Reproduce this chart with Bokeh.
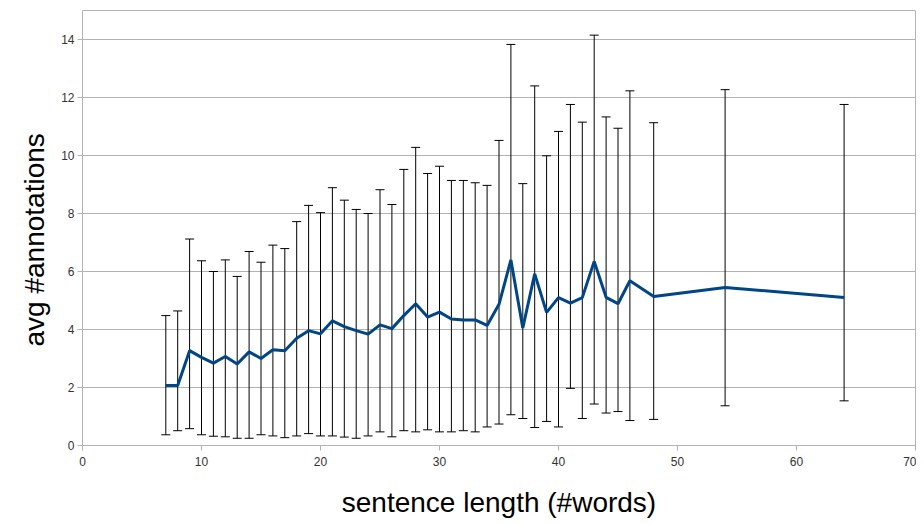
from bokeh.plotting import figure
from bokeh.models import ColumnDataSource, Whisker, TeeHead, FixedTicker, Range1d, Title
from bokeh.embed import file_html
from bokeh.resources import INLINE

sentence_length = [7, 8, 9, 10, 11, 12, 13, 14, 15, 16, 17, 18, 19, 20, 21, 22, 23, 24, 25, 26,
                   27, 28, 29, 30, 31, 32, 33, 34, 35, 36, 37, 38, 39, 40, 41, 42, 43, 44, 45, 46,
                   48, 54, 64]
avg_annotations = [2.07, 2.07, 3.27, 3.04, 2.84, 3.07, 2.81, 3.23, 3.00, 3.30, 3.27, 3.70, 3.96, 3.85,
                   4.30, 4.10, 3.96, 3.84, 4.16, 4.03, 4.48, 4.89, 4.43, 4.60, 4.36, 4.33, 4.33, 4.14,
                   4.87, 6.40, 4.05, 5.92, 4.59, 5.10, 4.91, 5.10, 6.35, 5.11, 4.89, 5.68,
                   5.14, 5.45, 5.10]
upper = [4.48, 4.64, 7.12, 6.37, 6.00, 6.40, 5.83, 6.69, 6.32, 6.91, 6.79, 7.72, 8.28, 8.03,
         8.89, 8.46, 8.14, 8.00, 8.82, 8.31, 9.52, 10.28, 9.38, 9.63, 9.14, 9.14, 9.06, 8.97,
         10.52, 13.83, 9.03, 12.40, 9.99, 10.83, 11.76, 11.15, 14.15, 11.33, 10.94, 12.23,
         11.13, 12.27, 11.76]
lower = [0.37, 0.51, 0.58, 0.37, 0.32, 0.30, 0.25, 0.25, 0.37, 0.33, 0.27, 0.33, 0.41, 0.33,
         0.33, 0.29, 0.25, 0.33, 0.47, 0.30, 0.51, 0.47, 0.54, 0.47, 0.47, 0.51, 0.47, 0.64,
         0.74, 1.06, 0.93, 0.62, 0.83, 0.64, 1.97, 0.93, 1.43, 1.12, 1.17, 0.86,
         0.90, 1.37, 1.54]
x_ticks = [0, 10, 20, 30, 40, 50, 60, 70]
y_ticks = [0, 2, 4, 6, 8, 10, 12, 14]

src = ColumnDataSource(dict(x=sentence_length, y=avg_annotations, upper=upper, lower=lower))

p = figure(width=916, height=520, output_backend="svg", toolbar_location=None,
           x_range=Range1d(0, 70), y_range=Range1d(0, 15),
           min_border_left=82, min_border_top=10, min_border_right=1, min_border_bottom=10)

grey = "#b3b3b3"
p.outline_line_color = grey
p.xgrid.grid_line_color = None
p.ygrid.grid_line_color = grey
p.ygrid.ticker = FixedTicker(ticks=y_ticks)

for ax in (p.xaxis[0], p.yaxis[0]):
    ax.axis_line_color = grey
    ax.major_tick_line_color = grey
    ax.minor_tick_line_color = None
    ax.major_tick_in = 0
    ax.major_tick_out = 5
    ax.major_label_text_font = "Liberation Sans"
    ax.major_label_text_font_size = "12px"
    ax.major_label_text_color = "#333333"
    ax.axis_label_text_font = "Liberation Sans"
    ax.axis_label_text_font_size = "28px"
    ax.axis_label_text_font_style = "normal"
    ax.axis_label_text_color = "#000000"

p.xaxis.ticker = FixedTicker(ticks=x_ticks)
p.yaxis.ticker = FixedTicker(ticks=y_ticks)
p.xaxis.axis_label = "sentence length (#words)"
p.xaxis.major_label_standoff = 6
p.yaxis.major_label_standoff = 3
p.xaxis.axis_label_standoff = 18

ytitle = Title(text="avg #annotations", align="left", offset=99,
               text_font="Liberation Sans", text_font_size="28px",
               text_font_style="normal", text_color="#000000", standoff=18)
p.add_layout(ytitle, "left")

w = Whisker(source=src, base="x", upper="upper", lower="lower",
            line_color="black", line_width=1,
            upper_head=TeeHead(size=9, line_color="black", line_width=1),
            lower_head=TeeHead(size=9, line_color="black", line_width=1))
p.add_layout(w)

p.line("x", "y", source=src, line_color="#004586", line_width=3)

open("out.html", "w").write(file_html(p, INLINE))
